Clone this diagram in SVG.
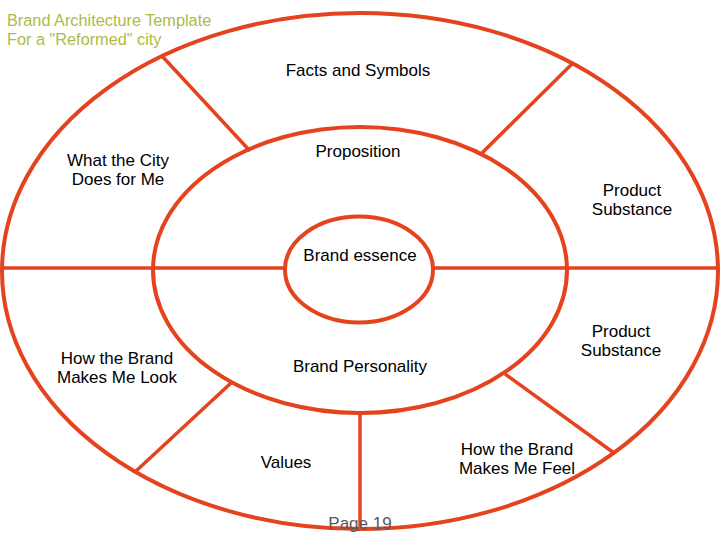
<svg xmlns="http://www.w3.org/2000/svg" width="720" height="540" viewBox="0 0 720 540">
<style>
.ring{fill:none;stroke:#e4431e;stroke-width:4}
.spoke{stroke:#e4431e;stroke-width:3.5;fill:none}
.lbl{font-family:"Liberation Sans",Arial,sans-serif;font-size:17px;fill:#000;text-anchor:middle}
.title{font-family:"Liberation Sans",Arial,sans-serif;font-size:16.3px;fill:#adbb45}
.page{font-family:"Liberation Sans",Arial,sans-serif;font-size:17px;fill:#5a5a5a;text-anchor:middle}
</style>
<rect width="720" height="540" fill="#fff"/>
<g id="title">
<text class="title" x="7" y="26">Brand Architecture Template</text>
<text class="title" x="7" y="45">For a "Reformed" city</text>
</g>
<g id="outer-ring"><ellipse class="ring" cx="360" cy="271" rx="358" ry="258"/></g>
<g id="middle-ring"><ellipse class="ring" cx="360" cy="270" rx="207" ry="143"/></g>
<g id="brand-essence"><ellipse class="ring" cx="359" cy="269.5" rx="74" ry="53"/>
<text class="lbl" x="360" y="261">Brand essence</text></g>
<g id="connectors">
<line class="spoke" x1="2" y1="268" x2="285" y2="268"/>
<line class="spoke" x1="433" y1="268" x2="718" y2="268"/>
<line class="spoke" x1="162" y1="56" x2="250" y2="151"/>
<line class="spoke" x1="573" y1="63" x2="481" y2="154"/>
<line class="spoke" x1="231" y1="383" x2="135" y2="472"/>
<line class="spoke" x1="360" y1="413" x2="360" y2="529"/>
<line class="spoke" x1="505" y1="374" x2="614" y2="453"/>
</g>
<g id="facts-and-symbols"><text class="lbl" x="358" y="76">Facts and Symbols</text></g>
<g id="proposition"><text class="lbl" x="358" y="157">Proposition</text></g>
<g id="what-the-city"><text class="lbl" x="118" y="166">What the City</text><text class="lbl" x="118" y="185">Does for Me</text></g>
<g id="product-substance-1"><text class="lbl" x="632" y="196">Product</text><text class="lbl" x="632" y="215">Substance</text></g>
<g id="product-substance-2"><text class="lbl" x="621" y="337">Product</text><text class="lbl" x="621" y="356">Substance</text></g>
<g id="makes-me-look"><text class="lbl" x="117" y="364">How the Brand</text><text class="lbl" x="117" y="383">Makes Me Look</text></g>
<g id="brand-personality"><text class="lbl" x="360" y="372">Brand Personality</text></g>
<g id="values"><text class="lbl" x="286" y="468">Values</text></g>
<g id="makes-me-feel"><text class="lbl" x="517" y="455">How the Brand</text><text class="lbl" x="517" y="474">Makes Me Feel</text></g>
<g id="page"><text class="page" x="360" y="529">Page 19</text></g>
</svg>
